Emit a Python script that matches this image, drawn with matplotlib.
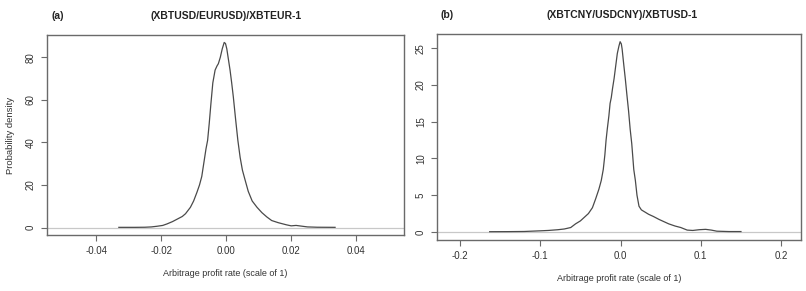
import matplotlib
matplotlib.use("Agg")
import matplotlib.pyplot as plt

plt.rcParams['font.family'] = ['Liberation Sans', 'DejaVu Sans']

# Panel (a): (XBTUSD/EURUSD)/XBTEUR-1 density
xa = [-0.0330, -0.0280, -0.0250, -0.0230, -0.0213, -0.0195, -0.0182, -0.0165, -0.0150, -0.0135,
      -0.0125, -0.0110, -0.0100, -0.0090, -0.0082, -0.0075, -0.0068, -0.0062, -0.0057, -0.0052,
      -0.0047, -0.0041, -0.0034, -0.0028, -0.0024, -0.0018, -0.0012, -0.0006, -0.0002, 0.0002,
      0.0007, 0.0012, 0.0017, 0.0022, 0.0029, 0.0036, 0.0043, 0.0050, 0.0058, 0.0068,
      0.0080, 0.0095, 0.0110, 0.0125, 0.0140, 0.0160, 0.0185, 0.0200, 0.0215, 0.0230,
      0.0250, 0.0280, 0.0335]
ya = [0.1, 0.1, 0.15, 0.3, 0.6, 1.0, 1.7, 2.8, 4.0, 5.2,
      6.5, 9.5, 12.5, 16.5, 20, 24, 31, 37, 41, 49,
      58, 68, 74, 76, 77, 80, 84, 87, 86.5, 84,
      79, 74, 68, 61.5, 51, 41, 33, 27, 22.5, 17,
      12.5, 9.5, 7, 5, 3.3, 2.3, 1.3, 0.8, 1.0, 0.7,
      0.3, 0.15, 0.1]

# Panel (b): (XBTCNY/USDCNY)/XBTUSD-1 density
xb = [-0.163, -0.140, -0.120, -0.100, -0.090, -0.078, -0.070, -0.062, -0.056, -0.050,
      -0.045, -0.040, -0.035, -0.031, -0.027, -0.024, -0.0215, -0.0195, -0.0180, -0.0165,
      -0.0145, -0.0130, -0.0115, -0.0100, -0.0080, -0.0060, -0.0040, -0.0020, -0.0005, 0.0010,
      0.0020, 0.0040, 0.0060, 0.0080, 0.0100, 0.0120, 0.0140, 0.0165, 0.0185, 0.0205,
      0.0230, 0.0260, 0.0290, 0.0350, 0.0410, 0.0480, 0.0540, 0.0600, 0.0680, 0.0750,
      0.0830, 0.0900, 0.0980, 0.1060, 0.1130, 0.1200, 0.1350, 0.1500]
yb = [0.03, 0.04, 0.06, 0.15, 0.2, 0.3, 0.4, 0.6, 1.1, 1.5,
      2.0, 2.5, 3.3, 4.5, 5.8, 7.0, 8.5, 10.5, 12.5, 14.0,
      15.8, 17.5, 18.3, 19.5, 20.9, 22.6, 24.3, 25.3, 25.9, 25.6,
      24.9, 22.8, 20.8, 18.6, 16.5, 14.0, 12.0, 8.5, 7.0, 5.0,
      3.5, 3.0, 2.8, 2.4, 2.1, 1.7, 1.4, 1.1, 0.8, 0.6,
      0.25, 0.2, 0.3, 0.35, 0.25, 0.1, 0.05, 0.05]

xticks_a = [-0.04, -0.02, 0.00, 0.02, 0.04]
xticklabels_a = ['-0.04', '-0.02', '0.00', '0.02', '0.04']
yticks_a = [0, 20, 40, 60, 80]
xticks_b = [-0.2, -0.1, 0.0, 0.1, 0.2]
xticklabels_b = ['-0.2', '-0.1', '0.0', '0.1', '0.2']
yticks_b = [0, 5, 10, 15, 20, 25]

titles = ['(XBTUSD/EURUSD)/XBTEUR-1', '(XBTCNY/USDCNY)/XBTUSD-1']
tags = ['(a)', '(b)']
xlabel = 'Arbitrage profit rate (scale of 1)'
ylabel = 'Probability density'

W, H = 806, 291
fig = plt.figure(figsize=(W / 100, H / 100), dpi=100)

def frac(l, t, r, b):
    return [l / W, 1 - b / H, (r - l) / W, (b - t) / H]

ax1 = fig.add_axes(frac(47, 35, 404, 235))
ax2 = fig.add_axes(frac(437, 34, 801, 240))

curve_col = '#4a4a4a'
box_col = '#6a6a6a'
text_col = '#333333'

def style(ax, xs, ys, xt, xtl, yt, xlim, ylim):
    ax.axhline(0, color='#c8c8c8', lw=0.9, zorder=1)
    ax.plot(xs, ys, color=curve_col, lw=0.9, zorder=2)
    ax.set_xlim(*xlim)
    ax.set_ylim(*ylim)
    ax.set_xticks(xt)
    ax.set_xticklabels(xtl)
    ax.set_yticks(yt)
    ax.set_yticklabels([str(v) for v in yt], rotation=90, va='center')
    for s in ax.spines.values():
        s.set_color(box_col)
        s.set_linewidth(1.0)
    ax.tick_params(axis='both', colors=box_col, labelcolor=text_col,
                   labelsize=7, length=4, width=0.8, pad=4)
    ax.set_xlabel(xlabel, fontsize=6.5, color=text_col, labelpad=9)

style(ax1, xa, ya, xticks_a, xticklabels_a, yticks_a, (-0.0551, 0.0547), (-3.5, 90.5))
style(ax2, xb, yb, xticks_b, xticklabels_b, yticks_b, (-0.2286, 0.2248), (-1.1, 26.95))
ax1.set_ylabel(ylabel, fontsize=6.8, color=text_col, labelpad=8)

fig.text(226 / W, 1 - 16 / H, titles[0], ha='center', va='center', fontsize=7.5,
         fontweight='bold', color='#222222')
fig.text(58 / W, 1 - 16 / H, tags[0], ha='center', va='center', fontsize=7.5,
         fontweight='bold', color='#222222')
fig.text(622 / W, 1 - 15 / H, titles[1], ha='center', va='center', fontsize=7.5,
         fontweight='bold', color='#222222')
fig.text(447 / W, 1 - 15 / H, tags[1], ha='center', va='center', fontsize=7.5,
         fontweight='bold', color='#222222')

fig.savefig('out.png', dpi=100, facecolor='white')
